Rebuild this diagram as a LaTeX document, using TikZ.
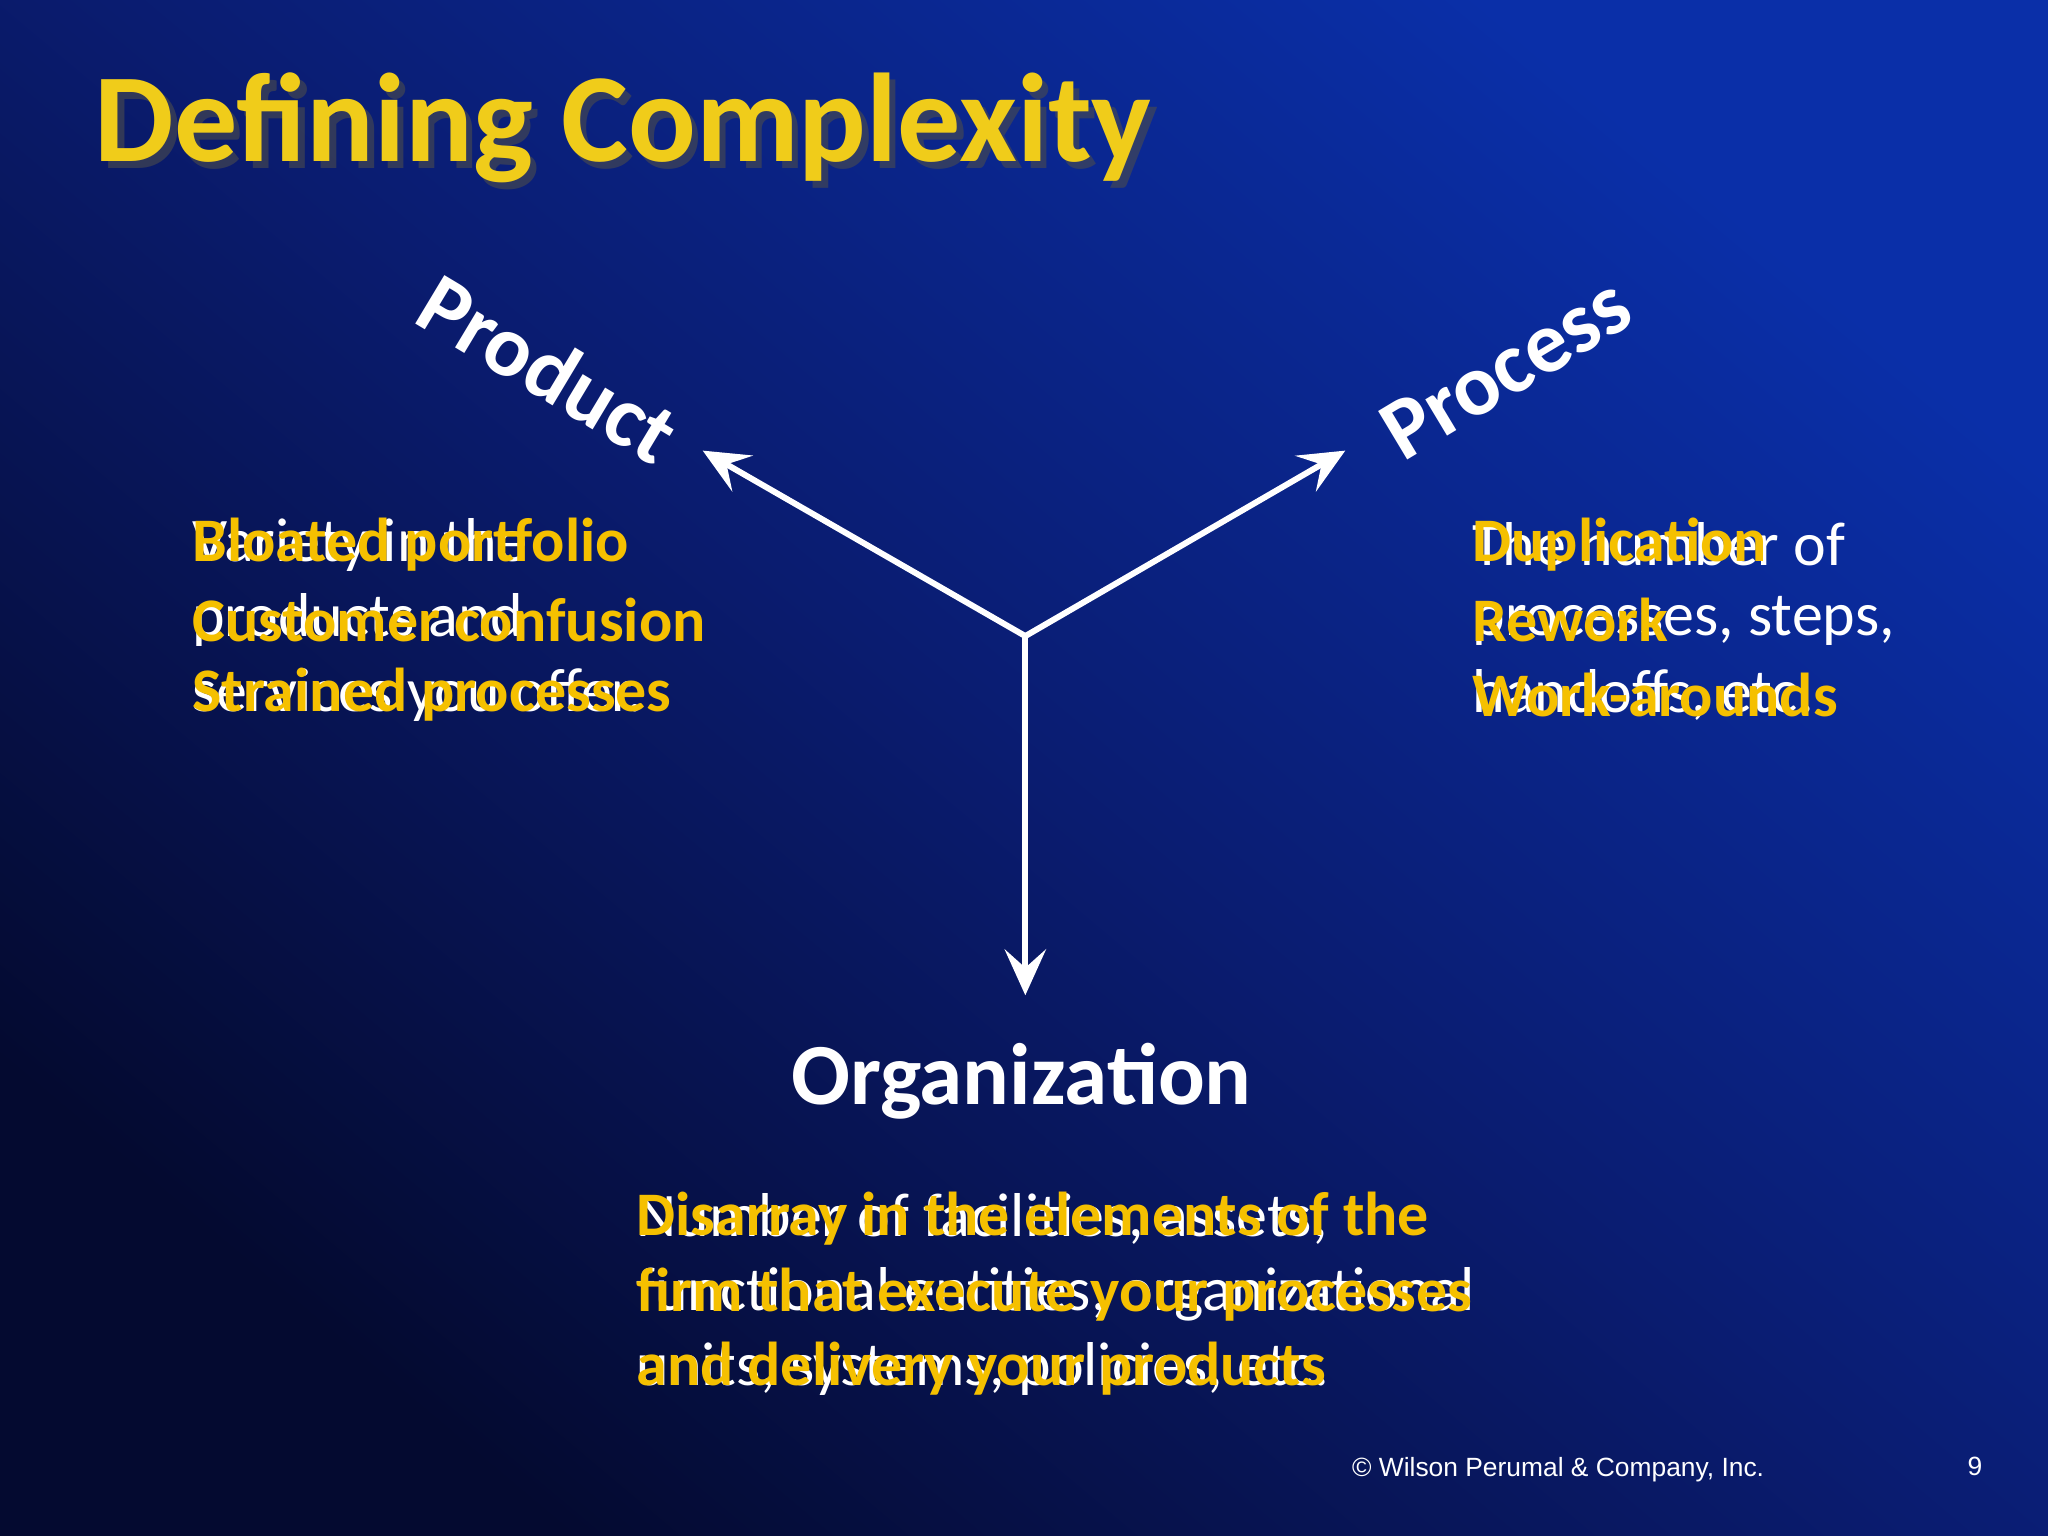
\documentclass[tikz,border=0pt]{standalone}
\usepackage{fontspec}
\setmainfont{Carlito}
\newfontfamily\arialf{Liberation Sans}
\usetikzlibrary{arrows.meta}
\definecolor{gold}{HTML}{F5C000}
\definecolor{ttl}{HTML}{F0CC1A}
\definecolor{bgdark}{HTML}{040A30}
\definecolor{bgmid}{HTML}{0A1C70}
\definecolor{bgblue}{HTML}{0A2FA8}
\begin{document}
\begin{tikzpicture}[x=0.02cm,y=-0.02cm,
  wtxt/.style={anchor=west,text=white,font=\fontsize{27}{31}\selectfont,align=left,inner sep=0pt},
  ytxt/.style={anchor=west,text=gold,font=\bfseries\fontsize{27}{31}\selectfont,align=left,inner sep=0pt},
  lbl/.style={text=white,font=\bfseries\fontsize{38}{44}\selectfont,inner sep=0pt},
  arr/.style={draw=white,line width=2.6pt,-{Stealth[length=20pt,width=18pt,inset=8pt]}}]
\shade[bottom color=bgdark,top color=bgblue,middle color=bgmid,shading angle=-40] (0,0) rectangle (1568,1176);
\useasboundingbox (0,0) rectangle (1568,1176);
\node[anchor=west,text=black!70,opacity=0.6,font=\bfseries\fontsize{55}{62}\selectfont,inner sep=0pt] at (77,103) {Defining Complexity};
\node[anchor=west,text=ttl,font=\bfseries\fontsize{55}{62}\selectfont,inner sep=0pt] (title) at (72,98) {Defining Complexity};
\coordinate (c) at (785,487);
\coordinate (pa) at (538,345);
\coordinate (pb) at (1030,345);
\coordinate (pc) at (785,762);
\draw[arr] (c) -- (pa);
\draw[arr] (c) -- (pb);
\draw[arr] (c) -- (pc);
\node[lbl,rotate=-31] (prod) at (420,282) {Product};
\node[lbl,rotate=31] (proc) at (1153,282) {Process};
\node[lbl] (org) at (782,828) {Organization};
% left
\node[wtxt] (lw1) at (147,417) {Variety in the};
\node[wtxt] (lw2) at (147,475) {products and};
\node[wtxt] (lw3) at (147,532) {services you offer.};
\node[ytxt] (ly1) at (147,417) {Bloated portfolio};
\node[ytxt] (ly2) at (147,475) {Customer confusion};
\node[ytxt] (ly3) at (147,532) {Strained processes};
% right
\node[wtxt] (rw1) at (1127,417) {The number of};
\node[wtxt] (rw2) at (1127,475) {processes, steps,};
\node[wtxt] (rw3) at (1127,532) {handoffs, etc.};
\node[ytxt] (ry1) at (1127,417) {Duplication};
\node[ytxt] (ry2) at (1127,475) {Rework};
\node[ytxt] (ry3) at (1127,532) {Work-arounds};
% bottom
\node[wtxt] (bw1) at (487,933) {Number of facilities, assets,};
\node[wtxt] (bw2) at (487,991) {functional entities, organizational};
\node[wtxt] (bw3) at (487,1048) {units, systems, policies, etc.};
\node[ytxt] (by1) at (487,933) {Disarray in the elements of the};
\node[ytxt] (by2) at (487,991) {firm that execute your processes};
\node[ytxt] (by3) at (487,1048) {and delivery your products};
\node[anchor=east,text=white,font=\arialf\fontsize{11.5}{13}\selectfont,inner sep=0pt] (copy) at (1351,1125) {© Wilson Perumal \& Company, Inc.};
\node[text=white,font=\arialf\fontsize{11.5}{13}\selectfont,inner sep=0pt] (pg) at (1512,1123) {9};
\end{tikzpicture}
\end{document}
